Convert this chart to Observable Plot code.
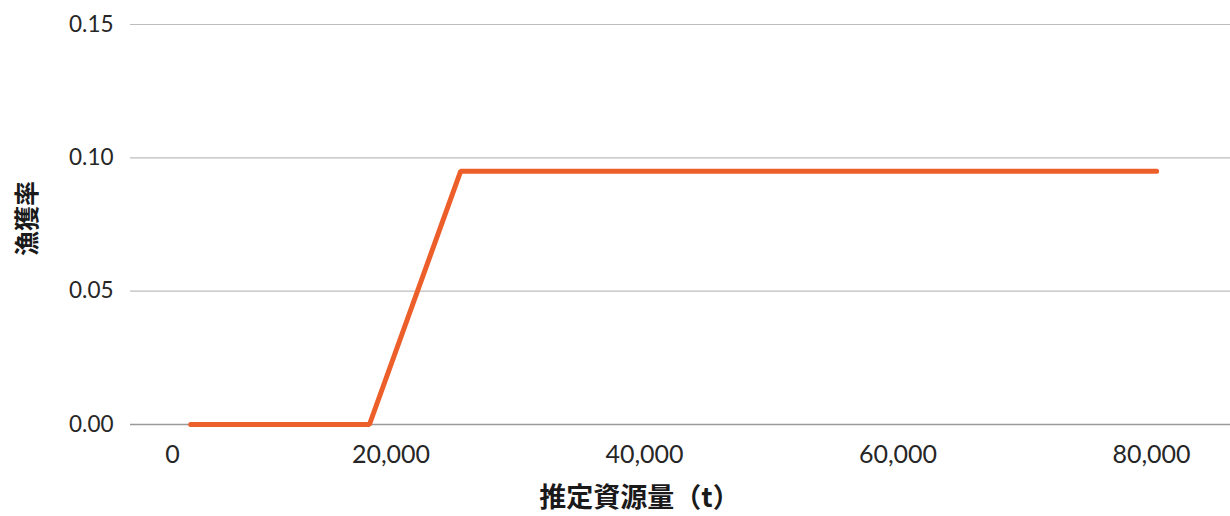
<!DOCTYPE html>
<html><head><meta charset="utf-8">
<script src="https://cdn.jsdelivr.net/npm/d3@7"></script>
<script src="https://cdn.jsdelivr.net/npm/@observablehq/plot@0.6"></script>
<style>
body{margin:0;background:#fff;}
svg{font-family:Lato,"Noto Sans",sans-serif;}
</style></head>
<body><div id="chart"></div>
<script>
const biomass = [4200, 18300, 25500, 80400];
const fishingRate = [0, 0, 0.095, 0.095];
const xTicks = [20000, 40000, 60000, 80000];
const xZeroTick = [0];
const yTicks = [0, 0.05, 0.10, 0.15];
const xTitle = "推定資源量（t）";
const yTitle = "漁獲率";

const data = biomass.map((b, i) => ({b, f: fishingRate[i]}));
const fmt = d3.format(",");

const chart = Plot.plot({
  width: 1230, height: 516,
  marginLeft: 130, marginRight: 0, marginTop: 24, marginBottom: 92,
  x: {domain: [-550, 86230]},
  y: {domain: [0, 0.15]},
  style: {fontSize: "21px", color: "#262626", fontFamily: "Lato, 'Noto Sans', sans-serif"},
  marks: [
    Plot.gridY(yTicks.slice(1), {stroke: "#bdbdbd", strokeOpacity: 1, strokeWidth: 1.2}),
    Plot.ruleY([0], {stroke: "#9a9a9a", strokeWidth: 1.5}),
    Plot.axisY(yTicks, {tickSize: 0, tickPadding: 17, tickFormat: d => d.toFixed(2), fontSize: 22.5, fill: "#262626", label: null}),
    Plot.axisX(xTicks, {tickSize: 0, tickPadding: 21, tickFormat: fmt, fontSize: 25, fill: "#262626", label: null}),
    Plot.axisX(xZeroTick, {tickSize: 0, tickPadding: 21, tickFormat: fmt, fontSize: 25, fill: "#262626", dx: 35, label: null}),
    Plot.line(data, {x: "b", y: "f", stroke: "#ED5F2A", strokeWidth: 5, strokeLinecap: "round", strokeLinejoin: "miter"}),
    Plot.text([xTitle], {frameAnchor: "bottom", text: d => d, dx: -41, dy: 82, fontSize: 27, fontWeight: "bold", fill: "#1a1a1a", fontFamily: "'Noto Sans CJK JP', sans-serif"}),
    Plot.text([yTitle], {frameAnchor: "left", textAnchor: "middle", text: d => d, dx: -103, dy: -6, rotate: -90, fontSize: 25, fontWeight: "bold", fill: "#1a1a1a", fontFamily: "'Noto Sans CJK JP', sans-serif"})
  ]
});
document.getElementById("chart").appendChild(chart);
</script></body></html>
